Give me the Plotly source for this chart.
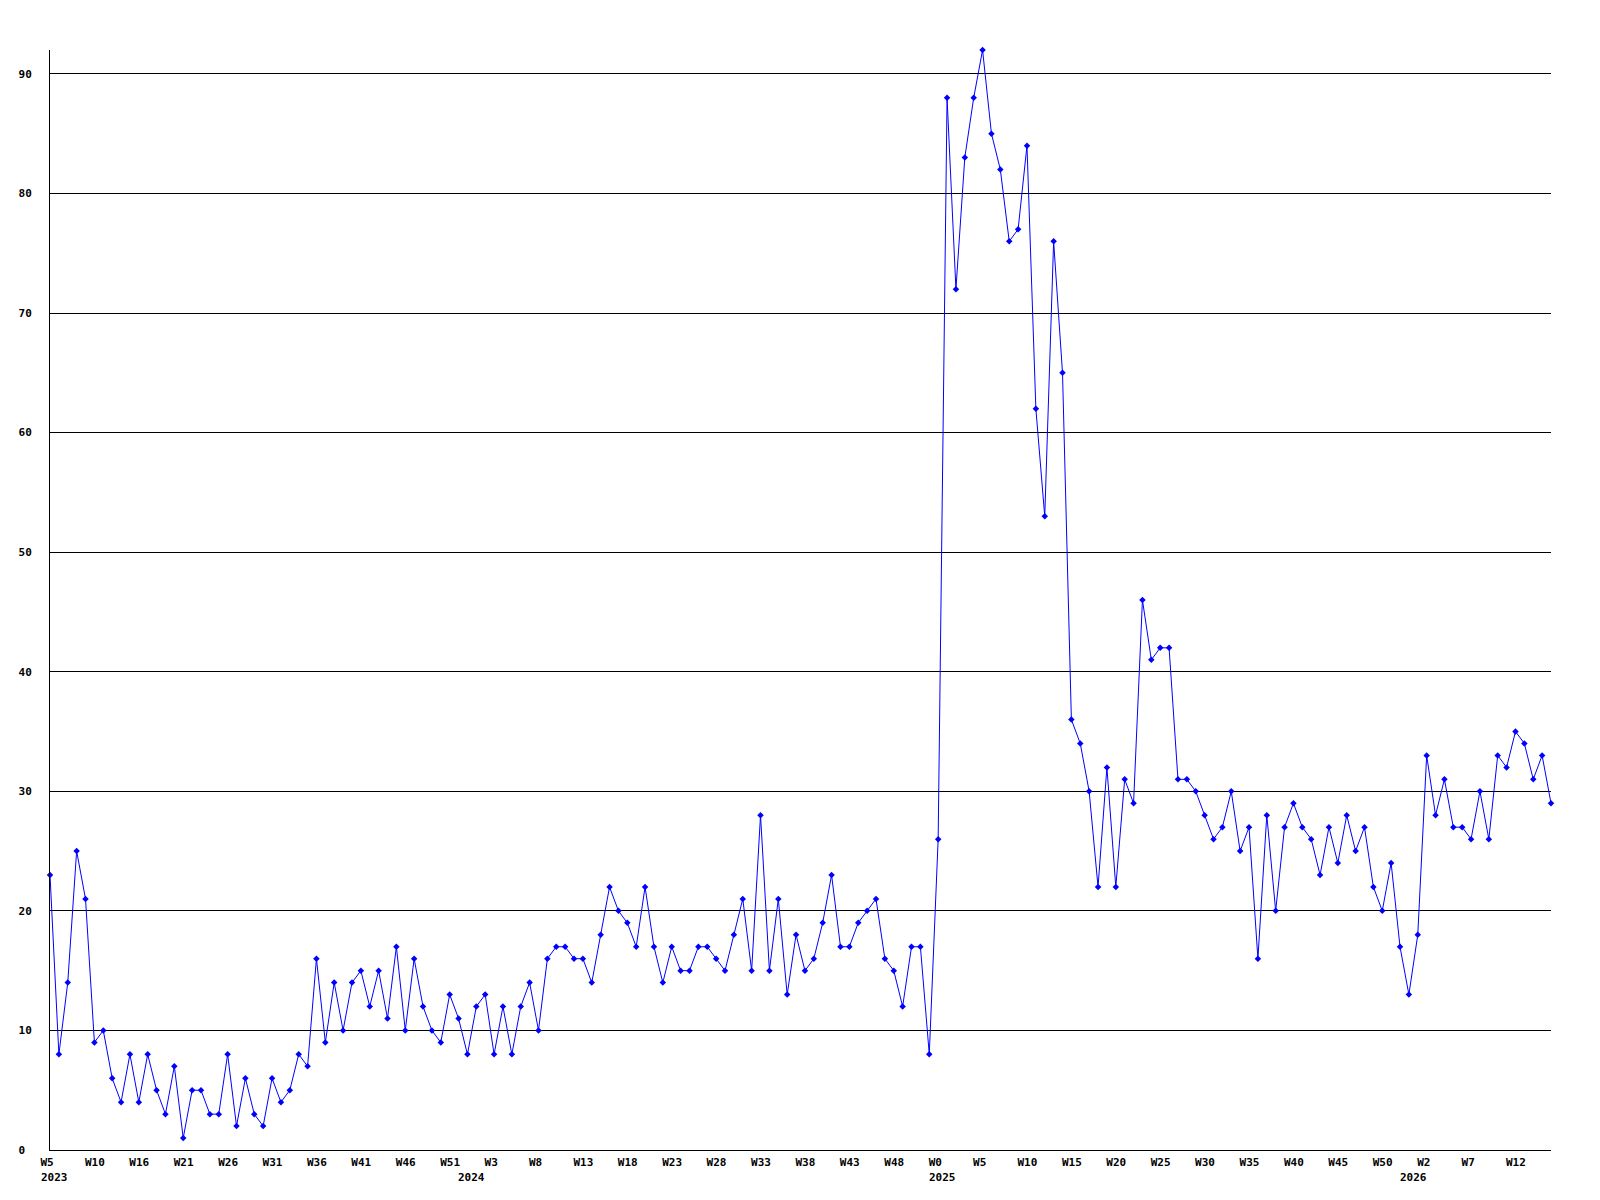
import plotly.graph_objects as go

# weekly values, 170 points (2023 W5 .. 2026 W16)
values_2023 = [23, 8, 14, 25, 21, 9, 10, 6, 4, 8, 4, 8, 5, 3, 7, 1, 5, 5, 3, 3,
               8, 2, 6, 3, 2, 6, 4, 5, 8, 7, 16, 9, 14, 10, 14, 15, 12, 15, 11, 17,
               10, 16, 12, 10, 9, 13, 11]
values_2024 = [8, 12, 13, 8, 12, 8, 12, 14, 10, 16, 17, 17, 16, 16, 14, 18, 22, 20, 19, 17,
               22, 17, 14, 17, 15, 15, 17, 17, 16, 15, 18, 21, 15, 28, 15, 21, 13, 18, 15, 16,
               19, 23, 17, 17, 19, 20, 21, 16, 15, 12, 17, 17, 8]
values_2025 = [26, 88, 72, 83, 88, 92, 85, 82, 76, 77, 84, 62, 53, 76, 65, 36, 34, 30, 22, 32,
               22, 31, 29, 46, 41, 42, 42, 31, 31, 30, 28, 26, 27, 30, 25, 27, 16, 28, 20, 27,
               29, 27, 26, 23, 27, 24, 28, 25, 27, 22, 20, 24, 17]
values_2026 = [13, 18, 33, 28, 31, 27, 27, 26, 30, 26, 33, 32, 35, 34, 31, 33, 29]

values = values_2023 + values_2024 + values_2025 + values_2026
x_index = list(range(len(values)))

week_tick_labels = ["W5", "W10", "W16", "W21", "W26", "W31", "W36", "W41", "W46", "W51",
                    "W3", "W8", "W13", "W18", "W23", "W28", "W33", "W38", "W43", "W48",
                    "W0", "W5", "W10", "W15", "W20", "W25", "W30", "W35", "W40", "W45",
                    "W50", "W2", "W7", "W12"]
week_tick_positions = list(range(0, 5 * len(week_tick_labels), 5))

year_labels = ["2023", "2024", "2025", "2026"]
year_positions = [0, len(values_2023), len(values_2023) + len(values_2024),
                  len(values_2023) + len(values_2024) + len(values_2025)]

y_ticks = [0, 10, 20, 30, 40, 50, 60, 70, 80, 90]
y_tick_text = ["0\u00a0"] + [str(v) for v in y_ticks[1:]]

FONT = dict(family="DejaVu Sans Mono", size=11, color="black", weight="bold")

fig = go.Figure()
fig.add_trace(go.Scatter(
    x=x_index, y=values, mode="lines+markers",
    line=dict(color="#0000FF", width=1),
    marker=dict(symbol="diamond", size=5, color="#0000FF"),
    cliponaxis=False, hoverinfo="skip", showlegend=False,
))

for label, pos in zip(year_labels, year_positions):
    fig.add_annotation(x=pos, y=0, xref="x", yref="paper", text=label,
                       showarrow=False, xanchor="left", yanchor="top",
                       xshift=-11, yshift=-19, font=FONT)

fig.update_layout(
    width=1600, height=1200,
    margin=dict(l=50, r=49, t=50, b=50),
    paper_bgcolor="white", plot_bgcolor="white",
    font=FONT,
    xaxis=dict(
        range=[0, len(values) - 1], tickmode="array",
        tickvals=week_tick_positions, ticktext=week_tick_labels,
        showgrid=False, zeroline=False, showline=True, linecolor="black", linewidth=1,
        ticks="", ticklabelposition="outside right", ticklabelshift=-10,
        ticklabelstandoff=2, tickfont=FONT,
    ),
    yaxis=dict(
        range=[0, max(values)], tickmode="array",
        tickvals=y_ticks, ticktext=y_tick_text,
        showgrid=True, gridcolor="black", gridwidth=1,
        zeroline=False, showline=True, linecolor="black", linewidth=1,
        ticks="", ticklabelstandoff=15, tickfont=FONT,
    ),
)

fig.write_html("out.html", config={"displayModeBar": False},
               post_script="document.body.style.margin='0';")
